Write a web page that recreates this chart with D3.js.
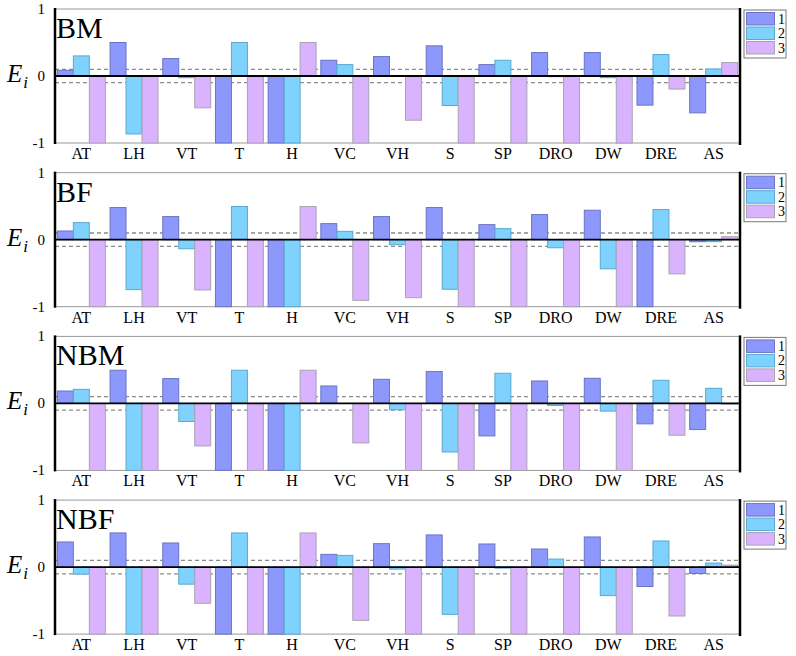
<!DOCTYPE html>
<html>
<head>
<meta charset="utf-8">
<script src="https://cdn.jsdelivr.net/npm/d3@7"></script>
<style>
  html, body { margin: 0; padding: 0; background: #fff; }
  svg { display: block; }
  svg text { font-family: 'Liberation Serif', 'Times New Roman', 'DejaVu Serif', serif; }
</style>
</head>
<body>
<svg id="chart" width="796" height="656"></svg>
<script>
// categories and series
const categories = ['AT', 'LH', 'VT', 'T', 'H', 'VC', 'VH', 'S', 'SP', 'DRO', 'DW', 'DRE', 'AS'];
const seriesNames = ['1', '2', '3'];
const panelNames = ['BM', 'BF', 'NBM', 'NBF'];

// E_i values per panel, one array per series (category order above)
const bm1 = [0.085, 0.50, 0.26, -1, -1, 0.235, 0.29, 0.45, 0.17, 0.35, 0.35, -0.435, -0.55];
const bm2 = [0.30, -0.865, -0.025, 0.50, -1, 0.17, 0, -0.44, 0.235, -0.01, -0.025, 0.32, 0.105];
const bm3 = [-1, -1, -0.475, -1, 0.50, -1, -0.66, -1, -1, -1, -1, -0.195, 0.20];

const bf1 = [0.13, 0.48, 0.345, -1, -1, 0.24, 0.345, 0.48, 0.225, 0.375, 0.44, -1, -0.03];
const bf2 = [0.255, -0.745, -0.135, 0.495, -1, 0.125, -0.075, -0.74, 0.165, -0.12, -0.435, 0.45, -0.03];
const bf3 = [-1, -1, -0.75, -1, 0.495, -0.905, -0.865, -1, -1, -1, -1, -0.51, 0.045];

const nbm1 = [0.185, 0.495, 0.37, -1, -1, 0.26, 0.36, 0.475, -0.485, 0.335, 0.375, -0.305, -0.39];
const nbm2 = [0.21, -1, -0.27, 0.495, -1, 0, -0.095, -0.725, 0.45, -0.03, -0.115, 0.345, 0.225];
const nbm3 = [-1, -1, -0.635, -1, 0.495, -0.59, -1, -1, -1, -1, -1, -0.475, -0.01];

const nbf1 = [0.375, 0.51, 0.36, -1, -1, 0.19, 0.35, 0.48, 0.345, 0.27, 0.45, -0.29, -0.095];
const nbf2 = [-0.105, -1, -0.255, 0.51, -1, 0.175, -0.03, -0.705, -0.015, 0.12, -0.425, 0.39, 0.06];
const nbf3 = [-1, -1, -0.54, -1, 0.51, -0.795, -1, -1, -1, -1, -1, -0.73, 0.03];

const panelValues = [[bm1, bm2, bm3], [bf1, bf2, bf3], [nbm1, nbm2, nbm3], [nbf1, nbf2, nbf3]];
const yTicks = [1, 0, -1];
const thresholds = [0.1, -0.1];

const fills = ['#8c98fc', '#80d2fe', '#d9b3fd'];
const strokes = ['#6b74c4', '#58a9cf', '#a9a3b3'];
const serif = "'Liberation Serif', 'Times New Roman', 'DejaVu Serif', serif";

const svg = d3.select('#chart');
const left = 55, right = 740;
const panelTop0 = 9, panelStep = 163.7, panelH = 134;

const x = d3.scaleBand().domain(categories).range([left, right])
  .paddingInner(0.09).paddingOuter(0.045);
const xs = d3.scaleBand().domain(seriesNames).range([0, x.bandwidth()]);

panelValues.forEach((vals, p) => {
  const top = panelTop0 + p * panelStep;
  const y = d3.scaleLinear().domain([-1, 1]).range([top + panelH, top]);
  const g = svg.append('g').attr('class', 'panel').attr('font-family', serif);

  // frame: gray top/bottom, black left/right
  g.append('line').attr('x1', left).attr('x2', right).attr('y1', y(1)).attr('y2', y(1))
    .attr('stroke', '#999').attr('stroke-width', 1);
  g.append('line').attr('x1', left).attr('x2', right).attr('y1', y(-1)).attr('y2', y(-1))
    .attr('stroke', '#999').attr('stroke-width', 1);

  // threshold dashed lines
  g.selectAll('line.thr').data(thresholds).enter().append('line')
    .attr('class', 'thr')
    .attr('x1', left).attr('x2', right)
    .attr('y1', d => y(d)).attr('y2', d => y(d))
    .attr('stroke', '#8c8c8c').attr('stroke-width', 1.3).attr('stroke-dasharray', '4,3');

  // bars
  const rows = categories.map((c, i) => ({ c, v: vals.map(s => s[i]) }));
  const groups = g.selectAll('g.cat').data(rows).enter().append('g')
    .attr('class', 'cat')
    .attr('transform', d => `translate(${x(d.c)},0)`);
  groups.selectAll('rect').data(d => d.v.map((v, k) => ({ k, v }))).enter().append('rect')
    .attr('x', d => xs(seriesNames[d.k]))
    .attr('width', xs.bandwidth())
    .attr('y', d => y(Math.max(0, d.v)))
    .attr('height', d => Math.abs(y(d.v) - y(0)))
    .attr('fill', d => fills[d.k])
    .attr('stroke', d => strokes[d.k])
    .attr('stroke-width', 1);

  // zero line
  g.append('line').attr('x1', left).attr('x2', right).attr('y1', y(0)).attr('y2', y(0))
    .attr('stroke', '#000').attr('stroke-width', 1.8);

  // left / right axes
  g.append('line').attr('x1', left).attr('x2', left).attr('y1', y(1) - 1).attr('y2', y(-1) + 1)
    .attr('stroke', '#000').attr('stroke-width', 2.5);
  g.append('line').attr('x1', right).attr('x2', right).attr('y1', y(1) - 1).attr('y2', y(-1) + 2)
    .attr('stroke', '#000').attr('stroke-width', 2.5);

  // y tick labels
  g.selectAll('text.ytick').data(yTicks).enter().append('text')
    .attr('class', 'ytick')
    .attr('x', 45).attr('y', d => y(d) + 5)
    .attr('text-anchor', 'end')
    .attr('font-size', 15)
    .text(d => d);

  // E_i axis label
  const lab = g.append('text').attr('x', 7).attr('y', y(0) + 6).attr('font-size', 25)
    .attr('font-style', 'italic');
  lab.append('tspan').text('E');
  lab.append('tspan').attr('font-size', 17).attr('dy', 6).attr('dx', 1).text('i');

  // category labels
  g.selectAll('text.xcat').data(categories).enter().append('text')
    .attr('class', 'xcat')
    .attr('x', d => x(d) + x.bandwidth() / 2)
    .attr('y', y(-1) + 16)
    .attr('text-anchor', 'middle')
    .attr('font-size', 16)
    .text(d => d);

  // panel title
  g.append('text').attr('x', 56).attr('y', y(1) + 29)
    .attr('font-size', 30)
    .text(panelNames[p]);

  // legend
  const lg = g.append('g').attr('transform', `translate(744,${top + 1})`);
  lg.append('rect').attr('width', 42).attr('height', 48)
    .attr('fill', '#fff').attr('stroke', '#777').attr('stroke-width', 1);
  seriesNames.forEach((s, k) => {
    lg.append('rect').attr('x', 2.5).attr('y', 2.5 + k * 14.5).attr('width', 28).attr('height', 12.5)
      .attr('fill', fills[k]).attr('stroke', strokes[k]).attr('stroke-width', 1);
    lg.append('text').attr('x', 34).attr('y', 13.5 + k * 14.5).attr('font-size', 14).text(s);
  });
});
</script>
</body>
</html>
